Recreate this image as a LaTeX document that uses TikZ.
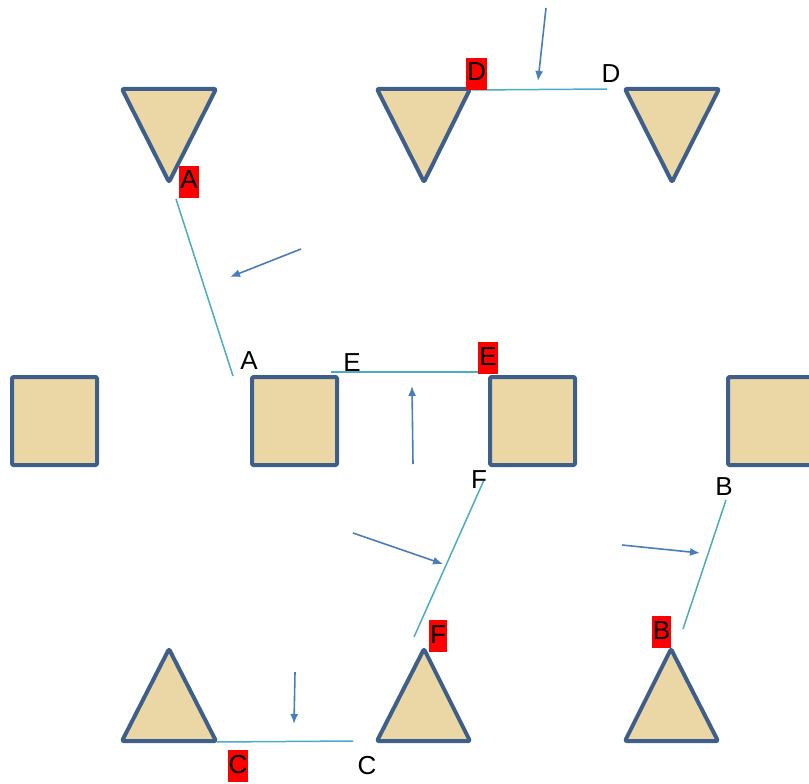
\documentclass[tikz,border=0pt]{standalone}
\usepackage{fontspec}
\setmainfont{Liberation Sans}
\usetikzlibrary{arrows.meta}
\definecolor{papyrus}{HTML}{EBD7A6}
\definecolor{edgeblue}{HTML}{3D5F8A}
\definecolor{linkblue}{HTML}{4BACC6}
\definecolor{arrowblue}{HTML}{4A7EBB}
\tikzset{
  shapeframe/.style={draw=edgeblue, fill=papyrus, line width=4pt, line join=round, rounded corners=1.2pt},
  lbl/.style={font=\fontsize{26}{30}\selectfont, inner xsep=1pt, inner ysep=2pt, text height=21pt, text depth=7pt},
  redlbl/.style={lbl, fill=red},
  link/.style={draw=linkblue, line width=1.5pt},
  hint/.style={draw=arrowblue, line width=1.6pt, -{Latex[length=10pt,width=8pt]}}
}
\begin{document}
\begin{tikzpicture}[x=1pt,y=-1pt]
\useasboundingbox (0,0) rectangle (809,784);
\clip (0,0) rectangle (809,784);
% downward triangles
\draw[shapeframe] (122,89) -- (216,89) -- (169,182) -- cycle;
\draw[shapeframe] (377,89) -- (470,89) -- (424,182) -- cycle;
\draw[shapeframe] (625,89) -- (719,89) -- (672,182) -- cycle;
% squares
\draw[shapeframe] (12,377) rectangle (97,465);
\draw[shapeframe] (252,377) rectangle (337,465);
\draw[shapeframe] (490,377) rectangle (575,465);
\draw[shapeframe] (728,377) rectangle (815,465);
% upward triangles
\draw[shapeframe] (122,741) -- (216,741) -- (169,649) -- cycle;
\draw[shapeframe] (377,741) -- (470,741) -- (424,649) -- cycle;
\draw[shapeframe] (625,741) -- (718,741) -- (671,649) -- cycle;

% connector end points
\coordinate (a1) at (176,199);  \coordinate (a2) at (233,376);
\coordinate (e1) at (331,372);  \coordinate (e2) at (487,372);
\coordinate (f1) at (414,637);  \coordinate (f2) at (484,480);
\coordinate (b1) at (683,629);  \coordinate (b2) at (726,500);
\coordinate (c1) at (217,742);  \coordinate (c2) at (353,741);
\coordinate (d1) at (472,90);   \coordinate (d2) at (607,89);

\draw[link] (a1) -- (a2);
\draw[link] (e1) -- (e2);
\draw[link] (f1) -- (f2);
\draw[link] (b1) -- (b2);
\draw[link] (c1) -- (c2);
\draw[link] (d1) -- (d2);

% arrows
\coordinate (ad1) at (546,8);   \coordinate (ad2) at (538,81);
\coordinate (aa1) at (301,249); \coordinate (aa2) at (230,277);
\coordinate (ae1) at (413,464); \coordinate (ae2) at (412,386);
\coordinate (af1) at (353,533); \coordinate (af2) at (443,564);
\coordinate (ab1) at (622,545); \coordinate (ab2) at (700,553);
\coordinate (ac1) at (295,672); \coordinate (ac2) at (294,724);
\draw[hint] (ad1) -- (ad2);
\draw[hint] (aa1) -- (aa2);
\draw[hint] (ae1) -- (ae2);
\draw[hint] (af1) -- (af2);
\draw[hint] (ab1) -- (ab2);
\draw[hint] (ac1) -- (ac2);

% labels
\node[redlbl] (lAr) at (189,181.5) {A};
\node[lbl]    (lAb) at (249,362) {A};
\node[lbl]    (lEb) at (352,364) {E};
\node[redlbl] (lEr) at (488,358) {E};
\node[lbl]    (lFb) at (479,481) {F};
\node[redlbl] (lFr) at (438,636) {F};
\node[lbl]    (lBb) at (724,488) {B};
\node[redlbl] (lBr) at (661.5,632) {B};
\node[redlbl] (lCr) at (238,766) {C};
\node[lbl]    (lCb) at (367,767) {C};
\node[redlbl] (lDr) at (476.5,74) {D};
\node[lbl]    (lDb) at (611,75) {D};
\end{tikzpicture}
\end{document}
